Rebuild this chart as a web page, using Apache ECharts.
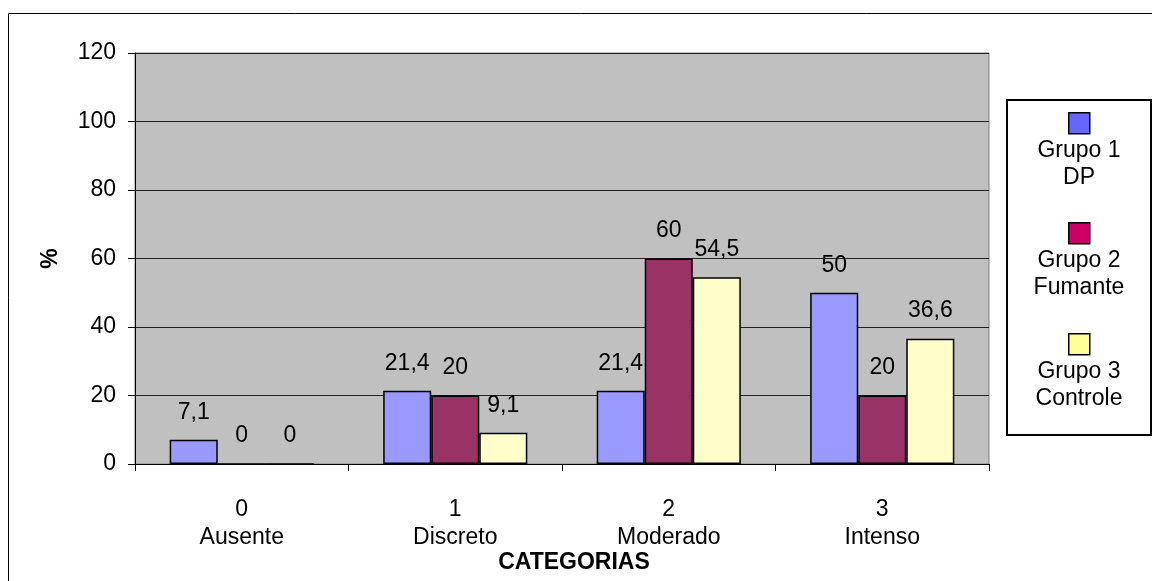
<!DOCTYPE html>
<html>
<head>
<meta charset="utf-8">
<title>Categorias por grupo</title>
<script src="https://cdn.jsdelivr.net/npm/echarts@6/dist/echarts.min.js"></script>
<style>
  html, body { margin: 0; padding: 0; background: #ffffff; }
  #chart { width: 1152px; height: 581px; }
</style>
</head>
<body>
<div id="chart"></div>
<script>
// Categories (score + description) and the percentage per group
const categories = ['0\nAusente', '1\nDiscreto', '2\nModerado', '3\nIntenso'];
const grupo1 = [7.1, 21.4, 21.4, 50];
const grupo2 = [0, 20, 60, 20];
const grupo3 = [0, 9.1, 54.5, 36.6];
const seriesNames = ['Grupo 1 DP', 'Grupo 2 Fumante', 'Grupo 3 Controle'];
const legendLines = ['Grupo 1\nDP', 'Grupo 2\nFumante', 'Grupo 3\nControle'];
const yTicks = { min: 0, max: 120, interval: 20 };
const xTitle = 'CATEGORIAS';
const yTitle = '%';

const FONT = '"Liberation Sans", Arial, sans-serif';
const barColors = ['#9999FF', '#993366', '#FFFFCC'];
const keyColors = ['#6666FF', '#CC0066', '#FFFF99'];
const keyTops = [112, 222, 333];

const fmt = v => String(v).replace('.', ',');

const chart = echarts.init(document.getElementById('chart'), null, { renderer: 'canvas' });

const seriesData = [grupo1, grupo2, grupo3];

const option = {
  backgroundColor: '#ffffff',
  animation: false,
  textStyle: { fontFamily: FONT },
  grid: {
    left: 135, top: 53, right: 163, bottom: 117,
    show: true,
    backgroundColor: '#C0C0C0',
    borderColor: '#808080',
    borderWidth: 1
  },
  legend: seriesNames.map((name, i) => ({
    data: [{ name: name, itemStyle: { color: keyColors[i], borderColor: '#000', borderWidth: 1.5 } }],
    left: 1068,
    top: keyTops[i],
    padding: 0,
    icon: 'rect',
    itemWidth: 21,
    itemHeight: 21,
    selectedMode: false,
    formatter: () => '',
    textStyle: { fontSize: 1 }
  })),
  xAxis: {
    type: 'category',
    data: categories,
    axisLine: { show: true, lineStyle: { color: '#000', width: 1 } },
    axisTick: { show: true, length: 7, lineStyle: { color: '#000' } },
    axisLabel: {
      color: '#000', fontSize: 23, fontFamily: FONT,
      lineHeight: 28, margin: 32, interval: 0
    },
    splitLine: { show: false }
  },
  yAxis: {
    type: 'value',
    min: yTicks.min, max: yTicks.max, interval: yTicks.interval,
    name: yTitle,
    nameLocation: 'middle',
    nameGap: 73,
    nameTextStyle: { color: '#000', fontSize: 23, fontWeight: 'bold', fontFamily: FONT },
    axisLine: { show: true, lineStyle: { color: '#000', width: 1 } },
    axisTick: { show: true, length: 7, lineStyle: { color: '#000' } },
    axisLabel: { color: '#000', fontSize: 23, fontFamily: FONT, margin: 19 },
    splitLine: { show: true, lineStyle: { color: '#222', width: 1 } }
  },
  series: seriesNames.map((name, i) => ({
    name: name,
    type: 'bar',
    data: seriesData[i],
    barGap: '0%',
    barCategoryGap: '32.5%',
    itemStyle: { color: barColors[i], borderColor: '#000', borderWidth: 1.5 },
    label: {
      show: true,
      position: 'top',
      distance: 16,
      color: '#000',
      fontSize: 23,
      fontFamily: FONT,
      formatter: p => fmt(p.value)
    }
  })),
  graphic: [
    // outer chart frame (runs off the right and bottom edges)
    {
      type: 'rect', silent: true, z: -10,
      shape: { x: 8.5, y: 13.5, width: 1300, height: 800 },
      style: { fill: 'none', stroke: '#000', lineWidth: 1 }
    },
    // legend frame
    {
      type: 'rect', silent: true, z: 0,
      shape: { x: 1007, y: 100, width: 144, height: 335 },
      style: { fill: '#ffffff', stroke: '#000', lineWidth: 2 }
    },
    ...legendLines.map((t, i) => ({
      type: 'text', silent: true, z: 5,
      x: 1079, y: keyTops[i] + 25,
      style: {
        text: t, fill: '#000', font: '23px ' + FONT,
        lineHeight: 27, align: 'center', verticalAlign: 'top'
      }
    })),
    {
      type: 'text', silent: true,
      x: 574, y: 563,
      style: {
        text: xTitle, fill: '#000', font: 'bold 23px ' + FONT,
        align: 'center', verticalAlign: 'middle'
      }
    }
  ]
};

chart.setOption(option);
</script>
</body>
</html>
